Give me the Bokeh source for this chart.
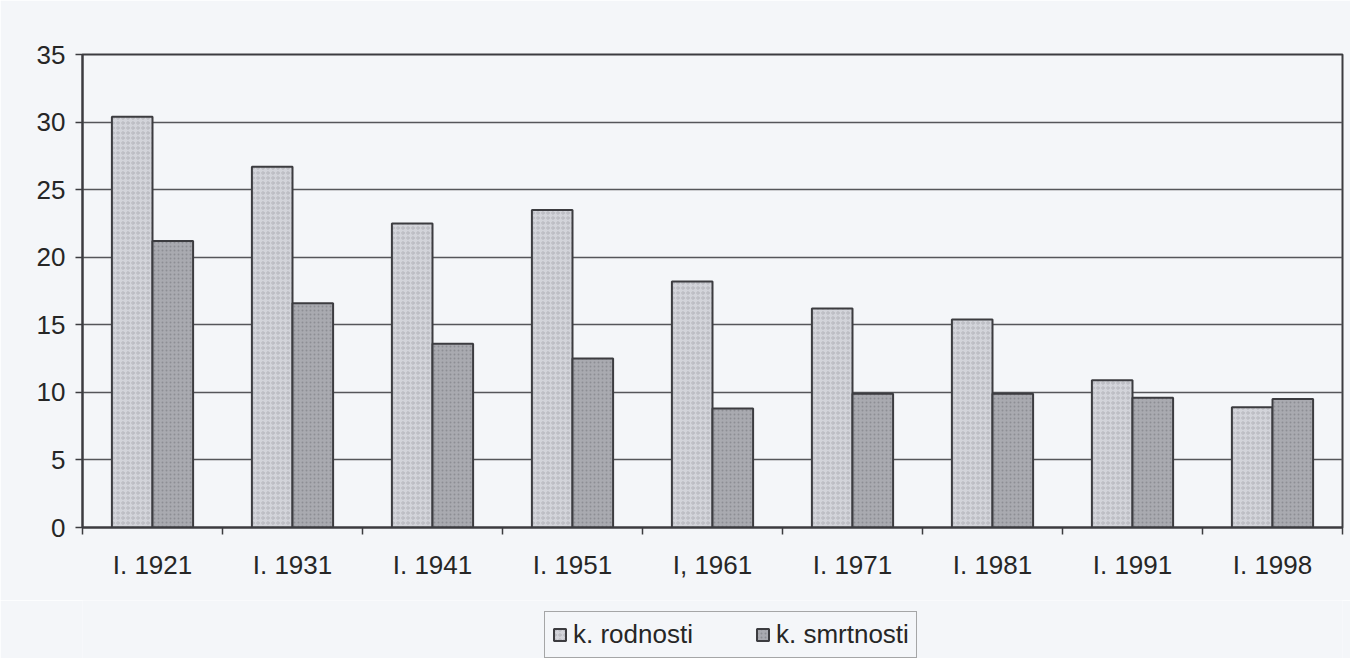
import numpy as np
from bokeh.plotting import figure
from bokeh.layouts import column
from bokeh.models import ColumnDataSource, Range1d, FixedTicker, Legend, LegendItem
from bokeh.embed import file_html
from bokeh.resources import INLINE

categories = ["I. 1921", "I. 1931", "I. 1941", "I. 1951", "I, 1961",
              "I. 1971", "I. 1981", "I. 1991", "I. 1998"]
rodnosti = [30.4, 26.7, 22.5, 23.5, 18.2, 16.2, 15.4, 10.9, 8.9]
smrtnosti = [21.2, 16.6, 13.6, 12.5, 8.8, 9.9, 9.9, 9.6, 9.5]
series_names = ["k. rodnosti", "k. smrtnosti"]
y_ticks = [0, 5, 10, 15, 20, 25, 30, 35]

FONT = "Liberation Sans"
BG = "#f4f6f9"
DARK = "#3c3c40"
TXT = "#262626"

ROD_STYLE = dict(fill_color="#d3d4da", line_color=DARK, line_width=2,
                 hatch_pattern="ring", hatch_color="#a9aab0", hatch_scale=5, hatch_alpha=0.7)
SMR_STYLE = dict(fill_color="#a9aab0", line_color=DARK, line_width=2,
                 hatch_pattern="dot", hatch_color="#86878d", hatch_scale=4, hatch_alpha=0.8)

n = len(categories)
centers = np.arange(n) + 0.5
bw = 0.29

src = ColumnDataSource(dict(
    xr=centers - bw / 2, xs=centers + bw / 2,
    rod=rodnosti, smr=smrtnosti,
))

p = figure(width=1350, height=600, output_backend="svg", toolbar_location=None,
           x_range=Range1d(0, n), y_range=Range1d(0, 35),
           min_border_left=82, min_border_right=8, min_border_top=54,
           min_border_bottom=73)
p.background_fill_color = BG
p.border_fill_color = BG
p.outline_line_color = DARK
p.outline_line_width = 2

p.vbar(x="xr", top="rod", width=bw, source=src, **ROD_STYLE)
p.vbar(x="xs", top="smr", width=bw, source=src, **SMR_STYLE)

# y axis
p.yaxis.ticker = FixedTicker(ticks=y_ticks)
p.yaxis.major_label_text_font = FONT
p.yaxis.major_label_text_font_size = "26px"
p.yaxis.major_label_text_color = TXT
p.yaxis.axis_line_color = DARK
p.yaxis.axis_line_width = 2
p.yaxis.major_tick_line_color = DARK
p.yaxis.major_tick_line_width = 1.5
p.yaxis.major_tick_out = 7
p.yaxis.major_tick_in = 0
p.yaxis.minor_tick_line_color = None
p.yaxis.major_label_standoff = 10

# x axis: labels at centers, ticks at boundaries
p.xaxis.ticker = FixedTicker(ticks=list(centers), minor_ticks=list(range(n + 1)))
p.xaxis.major_label_overrides = {float(c): lab for c, lab in zip(centers, categories)}
p.xaxis.major_label_text_font = FONT
p.xaxis.major_label_text_font_size = "26px"
p.xaxis.major_label_text_color = TXT
p.xaxis.axis_line_color = DARK
p.xaxis.axis_line_width = 2
p.xaxis.major_tick_line_color = None
p.xaxis.minor_tick_line_color = DARK
p.xaxis.minor_tick_line_width = 1.5
p.xaxis.minor_tick_out = 7
p.xaxis.minor_tick_in = 0
p.xaxis.major_label_standoff = 15

p.xgrid.grid_line_color = None
p.ygrid.grid_line_color = "#55565a"
p.ygrid.grid_line_width = 1.5
p.ygrid.ticker = FixedTicker(ticks=y_ticks)

# legend strip below the chart (hidden renderers only supply the legend swatches)
pl = figure(width=1350, height=58, output_backend="svg", toolbar_location=None,
            x_range=Range1d(0, n), y_range=Range1d(0, 35),
            x_axis_type=None, y_axis_type=None,
            min_border_left=82, min_border_right=8, min_border_top=0, min_border_bottom=0)
pl.background_fill_color = BG
pl.border_fill_color = BG
pl.outline_line_color = None
d1 = pl.vbar(x="xr", top="rod", width=bw, source=src, visible=False, **ROD_STYLE)
d2 = pl.vbar(x="xs", top="smr", width=bw, source=src, visible=False, **SMR_STYLE)

legend = Legend(items=[LegendItem(label=series_names[0], renderers=[d1]),
                       LegendItem(label=series_names[1], renderers=[d2])],
                orientation="horizontal", location=(462, 0))
legend.label_text_font = FONT
legend.label_text_font_size = "26px"
legend.label_text_color = TXT
legend.glyph_width = 15
legend.glyph_height = 15
legend.label_standoff = 6
legend.spacing = 62
legend.padding = 7
legend.margin = 0
legend.border_line_color = "#555"
legend.border_line_width = 1.5
legend.background_fill_color = BG
legend.background_fill_alpha = 1
legend.inactive_fill_alpha = 0
pl.add_layout(legend, "center")

layout = column(p, pl, spacing=0)
open("out.html", "w").write(file_html(layout, INLINE))
